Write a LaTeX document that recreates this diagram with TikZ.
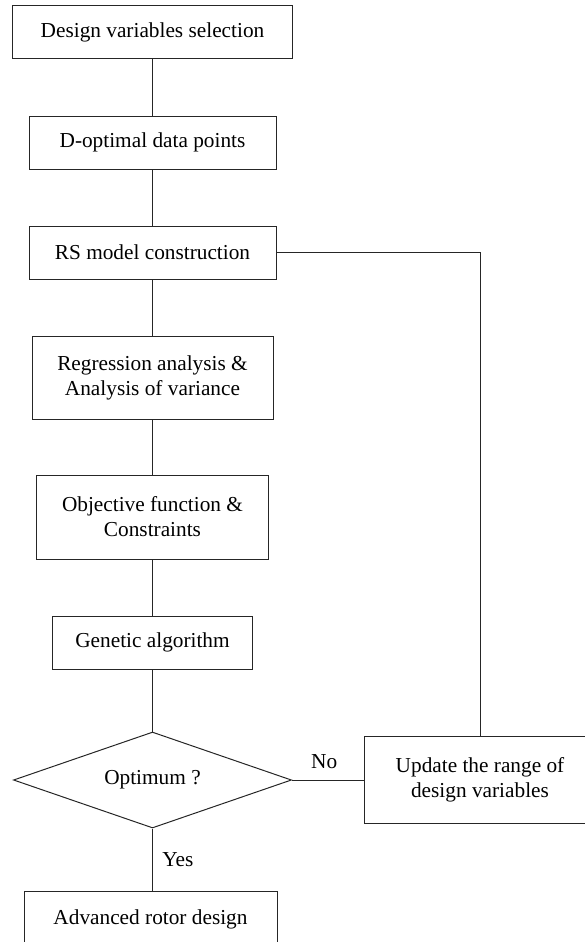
\documentclass[tikz,border=0pt]{standalone}
\usepackage{fontspec}
\setmainfont{Liberation Serif}
\usetikzlibrary{shapes.geometric}

\begin{document}
\begin{tikzpicture}[x=1pt,y=-1pt,font=\fontsize{21.3}{25}\selectfont,
    line width=1pt,
    box/.style={draw=black!85,inner sep=0pt,align=center},
    decide/.style={draw=black!85,diamond,aspect=2.9,inner sep=0pt,minimum width=278pt,minimum height=96pt},
    link/.style={draw=black!85}]
      \useasboundingbox (0,0) rectangle (585,942);
      \clip (0,0) rectangle (585,942);
      \node[box,minimum width=280pt,minimum height=53pt] (sel) at (152.5,32.5) {Design variables selection};
      \node[box,minimum width=247pt,minimum height=53pt] (dopt) at (152.5,142.5) {D-optimal data points};
      \node[box,minimum width=247pt,minimum height=53pt] (rsm) at (152.5,252.5) {RS model construction};
      \node[box,minimum width=241pt,minimum height=83pt] (reg) at (152.5,377.5) {Regression analysis \&\\Analysis of variance};
      \node[box,minimum width=232pt,minimum height=84pt] (obj) at (152.5,517) {Objective function \&\\Constraints};
      \node[box,minimum width=200pt,minimum height=53pt] (ga) at (152.5,642.5) {Genetic algorithm};
      \node[decide] (opt) at (152.5,780) {Optimum ?};
      \node[box,minimum width=232pt,minimum height=87pt] (upd) at (480,780) {Update the range of\\design variables};
      \node[box,minimum width=253pt,minimum height=56pt] (adv) at (150.5,919) {Advanced rotor design};
      \draw[link] (sel)--(dopt); \draw[link] (dopt)--(rsm);
      \draw[link] (rsm)--(reg); \draw[link] (reg)--(obj);
      \draw[link] (obj)--(ga); \draw[link] (ga)--(opt);
      \draw[link] (opt.east) -- (upd.west) node[pos=0.45,above=7pt] (no) {No};
      \draw[link] (opt) -- (opt|-adv.north) node[midway,right=6pt] (yes) {Yes};
      \draw[link] (rsm.east) -| (upd.north);
    \end{tikzpicture}
\end{document}
